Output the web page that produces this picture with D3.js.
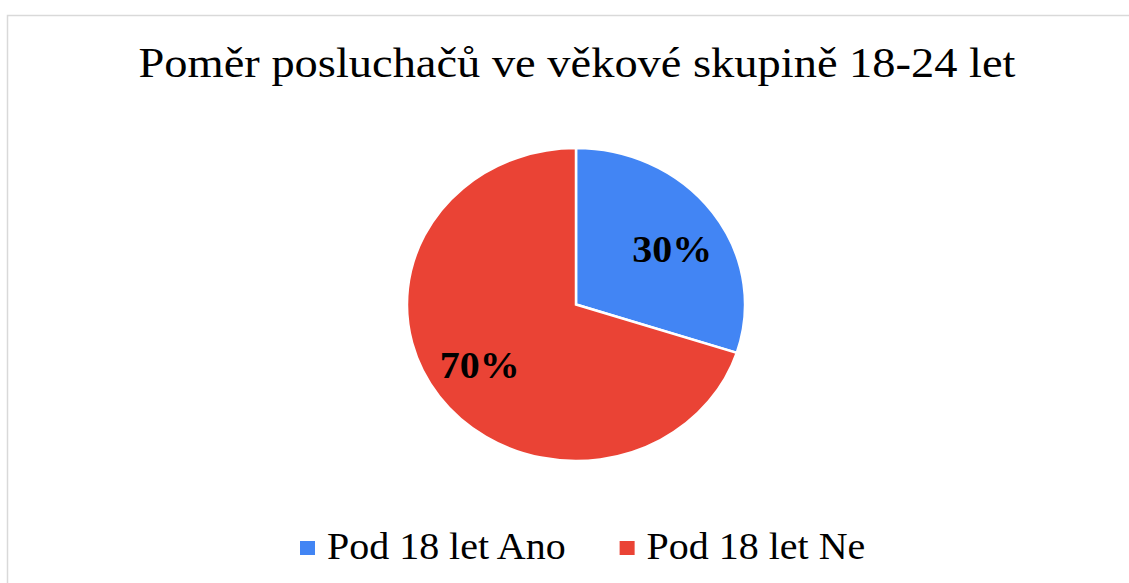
<!DOCTYPE html>
<meta charset="utf-8">
<style>
    html,
    body {
        margin: 0;
        padding: 0;
        background: #fff;
    }

    svg {
        display: block;
        font-family: "Liberation Serif", "Times New Roman", serif;
    }
</style>

<body>
    <svg width="1129" height="583"></svg>
    <script src="https://cdn.jsdelivr.net/npm/d3@7"></script>
    <script>
        // data
        const titleText = "Poměr posluchačů ve věkové skupině 18-24 let";
        const categories = ["Pod 18 let Ano", "Pod 18 let Ne"];
        const values = [30, 70];
        const colors = ["#4285f4", "#ea4335"];

        const width = 1129;
        const height = 583;
        const cx = 576, cy = 304.5;
        const ry = 156.5;
        const stretch = 1.08; // the whole picture is a bit wider than tall

        const svg = d3.select("svg");

        // chart frame (only left + top edges are visible)
        svg.append("path")
            .attr("d", `M7.5,${height} L7.5,15.5 L${width},15.5`)
            .attr("fill", "none")
            .attr("stroke", "#d9d9d9")
            .attr("stroke-width", 1.5);

        svg.append("text")
            .attr("transform", `translate(577,77) scale(${stretch},1)`)
            .attr("text-anchor", "middle")
            .attr("font-size", 43)
            .attr("fill", "#000")
            .text(titleText);

        const color = d3.scaleOrdinal().domain(categories).range(colors);
        const total = d3.sum(values);

        const pie = d3.pie().sort(null).value(d => d.value);
        const arcs = pie(categories.map((c, i) => ({ name: c, value: values[i] })));
        const arc = d3.arc().innerRadius(0).outerRadius(ry);
        const labelR = ry * 0.68;

        const g = svg.append("g")
            .attr("transform", `translate(${cx},${cy}) scale(${stretch},1)`);

        g.selectAll("path")
            .data(arcs)
            .join("path")
            .attr("d", arc)
            .attr("fill", d => color(d.data.name))
            .attr("stroke", "#fff")
            .attr("stroke-width", 2.5)
            .attr("vector-effect", "non-scaling-stroke");

        // label position: middle of slice, nudged a little clockwise like excel does
        function labelPos(d) {
            const a = (d.startAngle + d.endAngle) / 2 + 0.05;
            return [cx + Math.sin(a) * labelR * stretch, cy - Math.cos(a) * labelR];
        }

        svg.append("g")
            .selectAll("text")
            .data(arcs)
            .join("text")
            .attr("transform", d => `translate(${labelPos(d)}) scale(${stretch},1)`)
            .attr("dy", "0.42em")
            .attr("text-anchor", "middle")
            .attr("font-size", 37)
            .attr("font-weight", "bold")
            .attr("fill", "#000")
            .text(d => Math.round(d.data.value / total * 100) + "%");

        // legend
        const legend = svg.append("g");
        let lx = 300;
        categories.forEach((c, i) => {
            legend.append("rect")
                .attr("x", lx)
                .attr("y", 541)
                .attr("width", 15)
                .attr("height", 14)
                .attr("fill", color(c));
            const t = legend.append("text")
                .attr("transform", `translate(${lx + 27},559) scale(${stretch},1)`)
                .attr("font-size", 37)
                .attr("fill", "#000")
                .text(c);
            lx += 27 + t.node().getComputedTextLength() * stretch + 54;
        });
    </script>
</body>

</html>
